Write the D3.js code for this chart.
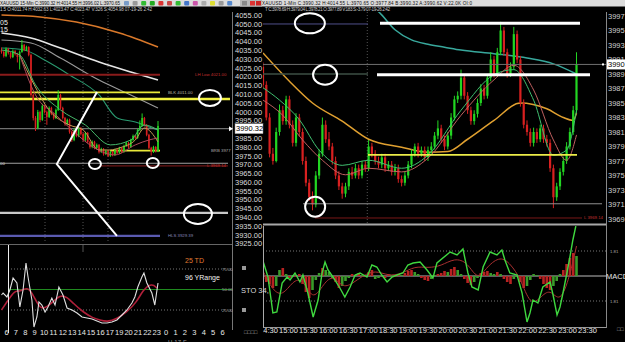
<!DOCTYPE html>
<html>
<head>
<meta charset="utf-8">
<script src="https://cdn.jsdelivr.net/npm/d3@7"></script>
<style>
  html, body { margin: 0; padding: 0; background: #000; overflow: hidden; }
  svg { display: block; font-family: "Liberation Sans", Arial, sans-serif; }
</style>
</head>
<body>
<div id="chart"></div>
<script>
const W = 625, H = 342;

// ---------- 15-min window (left) ----------
// [open, high, low, close]
const leftCandles = [
  [4035.1,4036.5,4033.0,4034.0],[4034.0,4034.8,4030.8,4031.7],[4031.7,4036.6,4031.0,4035.7],[4035.7,4036.3,4032.5,4033.4],
  [4033.4,4034.0,4030.2,4031.1],[4031.1,4035.4,4030.5,4034.5],[4034.5,4035.0,4032.0,4032.8],[4032.8,4033.5,4028.0,4031.1],
  [4031.1,4034.8,4024.0,4034.0],[4034.0,4040.8,4033.5,4037.9],[4037.9,4038.5,4034.4,4035.1],[4035.1,4037.5,4034.5,4036.8],
  [4036.8,4037.2,4031.5,4032.3],[4032.3,4033.0,4008.5,4009.5],[4009.5,4010.2,3995.0,3996.4],[3996.4,3997.5,3989.0,3990.7],
  [3990.7,4001.0,3990.0,3999.8],[3999.8,4000.5,3994.0,3995.3],[3995.3,4004.5,3994.8,4003.2],[4003.2,4004.0,3999.0,3999.8],
  [3999.8,4000.6,3992.5,3997.0],[3997.0,4003.0,3996.4,4002.1],[4002.1,4002.8,3998.0,3998.7],[3998.7,3999.5,3995.5,3996.4],
  [3996.4,4001.8,3995.8,4001.0],[4001.0,4012.3,4000.4,4009.5],[4009.5,4010.2,4001.4,4002.1],[4002.1,4002.8,3995.6,3996.4],
  [3996.4,3997.0,3992.0,3993.0],[3993.0,3996.0,3992.4,3995.3],[3995.3,3996.0,3987.5,3988.5],[3988.5,3989.2,3982.8,3983.9],
  [3983.9,3990.5,3983.2,3989.6],[3989.6,3990.2,3985.4,3986.2],[3986.2,3991.5,3985.5,3990.7],[3990.7,3991.3,3986.5,3987.3],
  [3987.3,3988.0,3983.0,3983.9],[3983.9,3988.6,3983.2,3987.9],[3987.9,3988.4,3982.0,3982.8],[3982.8,3983.4,3979.0,3979.9],
  [3979.9,3983.6,3979.2,3982.8],[3982.8,3983.4,3978.6,3979.4],[3979.4,3981.9,3978.8,3981.1],[3981.1,3981.6,3976.2,3977.1],
  [3977.1,3979.5,3976.5,3978.8],[3978.8,3979.3,3975.0,3975.9],[3975.9,3978.4,3975.3,3977.6],[3977.6,3978.2,3974.2,3974.8],
  [3974.8,3977.8,3974.3,3977.1],[3977.1,3977.6,3974.6,3975.4],[3975.4,3979.0,3974.8,3978.2],[3978.2,3978.8,3975.8,3976.5],
  [3976.5,3980.0,3976.0,3979.4],[3979.4,3979.9,3976.4,3977.1],[3977.1,3981.2,3976.6,3980.5],[3980.5,3983.0,3980.0,3982.2],
  [3982.2,3982.8,3979.2,3979.9],[3979.9,3984.6,3979.4,3983.9],[3983.9,3987.0,3983.4,3986.2],[3986.2,3986.8,3984.3,3985.0],
  [3985.0,3990.4,3984.5,3989.6],[3989.6,3995.0,3989.0,3991.9],[3991.9,3999.0,3991.4,3996.4],[3996.4,3997.0,3991.6,3992.4],
  [3992.4,3993.0,3986.0,3986.8],[3986.8,3987.4,3978.6,3979.4],[3979.4,3980.0,3975.0,3977.1],[3977.1,3980.6,3976.5,3979.9],
  [3979.9,3980.4,3976.8,3977.6],[3977.6,3994.7,3977.0,3991.9]
];
// moving averages as [candle index, price]
const leftMaOrange = [[0,4055.0],[17,4053.9],[33,4051.0],[52,4044.8],[69,4036.8]];
const leftMaWhite  = [[0,4044.8],[13,4041.9],[26,4036.2],[43,4028.3],[57,4022.6],[69,4018.0]];
const leftMaGray   = [[0,4040.8],[13,4039.1],[26,4030.5],[43,4018.0],[57,4009.5],[69,4002.1]];
const leftMaTeal   = [[0,4036.2],[10,4035.1],[19,4029.4],[30,4020.9],[43,4009.5],[51,3996.4],[59,3994.1],[65,3991.3],[69,3989.6]];
const leftMaTan    = [[8,4032.3],[14,4016.3],[21,4000.9],[30,3992.4],[36,3989.6],[43,3978.2],[48,3978.2],[52,3979.4],[59,3983.9],[63,3990.7],[69,3982.8]];
const leftMaPink   = [[8,4032.3],[15,4009.5],[24,3998.1],[32,3988.5],[41,3979.4],[50,3975.4],[59,3981.1],[65,3983.9],[69,3985.0]];
const leftMaGreen  = [[0,4035.1],[8,4032.3],[15,4015.2],[26,4001.0],[37,3992.4],[48,3981.1],[57,3983.9],[63,3992.4],[69,3989.6]];

const leftLevels = [4021.0, 4011.0, 4007.2, 3990.32, 3977.84, 3970.65, 3969.14, 3942.4, 3929.39];
const leftLevelLabels = ["LH Low 4021.00", "BLK 4011.00", "", "", "BRB 3977", "00", "L  3969.14", "", "HLS 3929.39"];
const leftPriceTicks = [4055,4050,4045,4040,4035,4030,4025,4020,4015,4010,4005,4000,3995,3990,3985,3980,3975,3970,3965,3960,3955,3950,3945,3940,3935,3930,3925];
const leftLast = 3990.32;

// oscillator (25 TD / 96 YRange) as [candle index, value]
const leftOscWhite = [[0,43.3],[0.7,45.7],[2.4,40.9],[3.7,49.4],[5.1,64.0],[6.8,57.9],[8.1,28.7],[9.5,49.4],[10.8,82.3],[11.7,65.2],
  [13.4,37.2],[14.3,4.3],[15.6,16.5],[16.5,34.8],[17.8,31.1],[19.2,22.6],[20.5,28.7],[22.2,39.6],[23.6,31.1],[25.3,53.0],
  [27.1,43.3],[28.9,27.4],[31.1,25.0],[33.3,21.3],[35.5,16.5],[37.7,15.2],[39.9,14.0],[42.1,11.6],[44.3,9.1],[46.5,9.1],
  [48.7,10.4],[50.9,12.8],[53.1,18.9],[55.3,25.0],[57.5,33.5],[58.8,40.9],[60.1,53.0],[61.9,65.2],[62.8,70.1],[64.1,57.9],
  [66.3,45.7],[67.6,31.1],[69,57.9]];
const leftOscRed = [[0,25.0],[2.4,34.8],[5.9,49.4],[8.1,47.0],[11.2,53.0],[13.4,47.0],[17,25.0],[20,28.7],[22.7,34.8],[25.8,43.3],
  [28.9,40.9],[31.5,33.5],[35.9,22.6],[40.3,15.2],[43.4,12.8],[46.5,10.4],[50.9,14.0],[55.3,22.6],[59.7,34.8],[62.3,49.4],
  [66.3,57.9],[68.5,51.8]];
const leftOscLevels = [75, 50, 25];
const hourLabels = ["6","7","8","9","10","11","12","13","14","15","16","17","19","20","21","22","23","0","1","2","3","4","5","6"];

// ---------- 1-min window (right) ----------
const midCandles = [
  [3990.0,3990.6,3987.0,3987.5],[3987.5,3988.0,3982.6,3983.0],[3983.0,3983.6,3977.5,3978.0],[3978.0,3978.8,3976.5,3977.0],
  [3977.0,3981.6,3976.8,3981.0],[3981.0,3984.8,3980.5,3984.0],[3984.0,3984.6,3982.0,3982.5],[3982.5,3986.0,3982.0,3985.5],
  [3985.5,3986.0,3981.5,3982.0],[3982.0,3982.6,3979.0,3979.5],[3979.5,3983.6,3979.0,3983.0],[3983.0,3983.5,3980.4,3981.0],
  [3981.0,3981.5,3976.5,3977.0],[3977.0,3977.6,3973.5,3974.0],[3974.0,3974.5,3971.5,3972.0],[3972.0,3972.8,3970.2,3971.0],
  [3971.0,3975.6,3970.6,3975.0],[3975.0,3978.6,3974.5,3978.0],[3978.0,3983.0,3977.6,3982.0],[3982.0,3982.6,3979.5,3980.0],
  [3980.0,3981.0,3978.5,3979.0],[3979.0,3979.5,3976.5,3977.0],[3977.0,3977.6,3974.5,3975.0],[3975.0,3975.6,3973.0,3973.5],
  [3973.5,3974.0,3971.8,3972.5],[3972.5,3974.0,3972.0,3973.5],[3973.5,3976.0,3973.0,3975.5],[3975.5,3976.2,3974.5,3975.0],
  [3975.0,3976.6,3974.6,3976.0],[3976.0,3976.5,3974.5,3975.0],[3975.0,3977.0,3974.6,3976.5],[3976.5,3977.0,3975.5,3976.0],
  [3976.0,3979.9,3975.6,3979.0],[3979.0,3979.5,3977.5,3978.0],[3978.0,3978.5,3976.5,3977.0],[3977.0,3977.6,3976.0,3976.5],
  [3976.5,3978.0,3976.0,3977.5],[3977.5,3978.0,3975.5,3976.0],[3976.0,3977.0,3975.6,3976.5],[3976.5,3977.0,3975.0,3975.5],
  [3975.5,3976.6,3975.0,3976.0],[3976.0,3976.5,3974.0,3974.5],[3974.5,3975.0,3973.5,3974.0],[3974.0,3975.6,3973.6,3975.0],
  [3975.0,3977.0,3974.6,3976.5],[3976.5,3978.6,3976.0,3978.0],[3978.0,3979.4,3977.6,3979.0],[3979.0,3979.5,3977.5,3978.0],
  [3978.0,3979.0,3977.6,3978.5],[3978.5,3979.0,3977.0,3977.5],[3977.5,3979.0,3977.0,3978.5],[3978.5,3979.6,3978.0,3979.0],
  [3979.0,3981.0,3978.6,3980.5],[3980.5,3982.6,3980.0,3981.5],[3981.5,3982.0,3979.5,3980.0],[3980.0,3980.5,3978.5,3979.0],
  [3979.0,3981.0,3978.6,3980.5],[3980.5,3983.6,3980.0,3983.0],[3983.0,3986.0,3982.6,3985.5],[3985.5,3986.6,3985.0,3986.0],
  [3986.0,3989.6,3985.5,3988.5],[3988.5,3989.0,3985.5,3986.0],[3986.0,3986.5,3983.5,3984.0],[3984.0,3984.5,3982.0,3982.5],
  [3982.5,3984.0,3982.0,3983.5],[3983.5,3985.6,3983.0,3985.0],[3985.0,3987.6,3984.6,3987.0],[3987.0,3987.5,3985.5,3986.0],
  [3986.0,3989.0,3985.6,3988.5],[3988.5,3992.0,3988.0,3991.0],[3991.0,3991.5,3988.5,3989.0],[3989.0,3992.6,3988.6,3992.0],
  [3992.0,3996.2,3991.6,3995.0],[3995.0,3995.5,3991.5,3992.0],[3992.0,3992.5,3988.5,3989.0],[3989.0,3990.6,3988.6,3990.0],
  [3990.0,3995.5,3989.6,3994.5],[3994.5,3995.0,3990.5,3991.0],[3991.0,3991.5,3984.5,3985.0],[3985.0,3985.5,3981.5,3982.0],
  [3982.0,3982.6,3980.5,3981.0],[3981.0,3981.5,3979.0,3979.5],[3979.5,3981.6,3979.0,3981.0],[3981.0,3981.5,3979.5,3980.0],
  [3980.0,3982.0,3979.6,3981.5],[3981.5,3982.0,3979.5,3980.0],[3980.0,3980.6,3979.0,3979.5],[3979.5,3980.0,3975.5,3976.0],
  [3976.0,3976.5,3970.5,3972.0],[3972.0,3974.0,3971.5,3973.5],[3973.5,3976.0,3973.0,3975.5],[3975.5,3977.6,3975.0,3977.0],
  [3977.0,3979.6,3976.6,3979.0],[3979.0,3981.6,3978.6,3981.0],[3981.0,3984.6,3980.6,3984.0],[3984.0,3992.0,3983.6,3990.3]
];
const midMaTeal   = [[30,3999.0],[35,3997.6],[40,3995.1],[45,3993.7],[50,3993.1],[55,3992.7],[60,3992.3],[70,3991.8],[80,3991.2],[88,3990.4],[95,3989.0]];
const midMaOrange = [[0,3991.9],[8,3988.0],[15,3985.0],[24,3982.5],[32,3980.0],[42,3978.9],[50,3978.2],[56,3978.3],[62,3980.0],[70,3982.6],[78,3985.0],[86,3984.2],[91,3983.0],[94,3982.6],[95,3983.6]];
const midMaGreen  = [[0,3987.1],[5,3985.4],[11,3982.7],[17,3978.5],[24,3976.4],[32,3977.1],[42,3976.0],[50,3977.8],[60,3984.0],[70,3988.9],[76,3989.6],[82,3985.4],[88,3977.8],[92,3978.5],[95,3984.0]];
const midMaPink   = [[0,3985.4],[6,3983.3],[12,3979.9],[18,3977.1],[25,3975.1],[32,3976.0],[42,3975.5],[50,3977.4],[60,3983.3],[70,3988.2],[76,3990.2],[82,3986.8],[88,3979.9],[92,3977.1],[95,3980.6]];
const midLevels = [3995.9, 3996.0, 3990.32, 3989.0, 3988.9, 3977.84, 3971.1, 3969.14];
const midPriceTicks = [3997,3995,3993,3991,3989,3987,3985,3983,3981,3979,3977,3975,3973,3971,3969];
const midLast = 3990.32;

// STO 34 (green), signal (red), histogram as [candle index, value]
const midSto = [[0,15],[1.5,-1],[3,-37],[4.2,-36],[5.8,-7],[7.3,-1],[8.2,-4],[9.7,3],[11.2,-6],[12.1,1],[13.6,-17],[15.2,-41],
  [16.7,-24],[17.9,3],[18.8,14],[19.7,6],[21.2,-1],[23.3,-12],[24.8,-21],[26.4,-11],[27.9,1],[29.4,3],[31.5,-1],[33,11],
  [34.5,9],[36,1],[37.6,-6],[39.1,-1],[40.6,1],[42.4,3],[43.9,11],[45.5,13],[47.6,14],[49.7,6],[51.5,-2],[52.7,13],
  [56.7,24],[58.8,21],[60.6,27],[62.1,3],[63.3,-11],[65.2,-14],[66.7,9],[68.8,24],[70.9,21],[72.4,26],[73.3,16],[74.8,3],
  [77,1],[78.5,-17],[80,-46],[80.9,-37],[81.8,-24],[83.3,-27],[84.8,-11],[87,-6],[87.9,-19],[89.1,-39],[90,-31],[90.9,-17],
  [92.1,3],[93,19],[93.9,36],[94.8,50]];
const midSignal = [[0,5],[3,-15],[6,-20],[9,-5],[12,-2],[15,-25],[18,-10],[21,2],[24,-12],[27,-8],[30,0],[34,6],[38,0],[42,2],
  [46,10],[50,8],[54,10],[58,18],[62,14],[65,-5],[68,10],[72,20],[75,12],[78,-2],[81,-30],[84,-22],[87,-12],[90,-28],[93,0],[95,30]];
const midHist = [-3,-6,-8,-12,-10,6,8,2,-2,1,-1,2,-8,-16,-22,-14,-4,3,8,6,4,-2,-6,-12,-10,-5,-2,2,1,3,1,-1,
  4,6,-3,-2,1,-2,2,1,-1,2,1,3,5,6,4,2,-2,-4,-5,-3,1,2,3,5,4,7,9,6,2,-3,-7,-9,-6,-2,
  3,4,5,3,2,4,2,-3,-6,-8,-3,-1,-6,-12,-10,-4,2,1,-3,-8,-12,-14,-10,-5,2,6,12,18,23,20];
const midOscLevels = [25, 0, -25];
const timeLabels = ["14:30","15:00","15:30","16:00","16:30","17:00","18:30","19:00","19:30","20:00","20:30","21:00","21:30","22:00","22:30","23:00","23:30"];

const leftTitle1 = "XAUUSD 15-Min  C:3990.32  H:4014.55  H:3996.02  L:3970.65";
const leftTitle2 = "1.5  O:4011.74  H:4032.63  L:4023.47  C:4023.47  V:326  S:4054.98  07-19-26  2:42";
const midTitle1 = "XAUUSD 1-Min  C:3990.32  H:4014.55  L:3970.65  O:3977.84  B:3990.32  A:3990.62  V:22.0K  OI:0";
const midTitle2 = "T  C:3978.69  H:3979.04  L:3978.21  O:3977.89  V:183  S:-3.79  07-19-26  2:42";
const toolIcons = ["#7a9cc8","#999","#3b3","#2a2","#d33","#c44","#3b3","#47c","#c5a","#aaa","#dd3","#999","#58c"];

// ---------- scales ----------
const leftX = d3.scaleLinear().domain([0, 69]).range([1.5, 158]);
const leftY = d3.scaleLinear().domain([3925, 4055]).range([243.5, 15]);
const leftOscY = d3.scaleLinear().domain([0, 100]).range([330.5, 248.5]);
const hourX = d3.scaleLinear().domain([0, 23]).range([6, 222]);
const midX = d3.scaleLinear().domain([0, 95]).range([263, 576.5]);
const midY = d3.scaleLinear().domain([3969, 3997]).range([219, 16]);
const midOscY = d3.scaleLinear().domain([-50, 50]).range([326, 226]);
const timeX = d3.scalePoint().domain(timeLabels).range([268, 587]);

const UP = "#22d622", DOWN = "#d82020";

const svg = d3.select("#chart").append("svg").attr("width", W).attr("height", H);
svg.append("rect").attr("width", W).attr("height", H).attr("fill", "#000");

const defs = svg.append("defs");
function clip(id, x, y, w, h) {
  defs.append("clipPath").attr("id", id).append("rect").attr("x", x).attr("y", y).attr("width", w).attr("height", h);
  return `url(#${id})`;
}
const leftClip = clip("lc", 0, 12, 232, 231);
const midClip = clip("mc", 263, 12, 343, 211);
const midOscClip = clip("moc", 263, 226, 343, 101);
const timeClip = clip("tc", 263, 327, 362, 15);
const leftOscClip = clip("loc", 0, 245, 232, 85);

function drawCandles(g, data, x, y, bw) {
  const c = g.selectAll(null).data(data).join("g");
  c.append("line")
    .attr("x1", (d, i) => x(i)).attr("x2", (d, i) => x(i))
    .attr("y1", d => y(d[1])).attr("y2", d => y(d[2]))
    .attr("stroke", d => d[3] >= d[0] ? UP : DOWN).attr("stroke-width", 1);
  c.append("rect")
    .attr("x", (d, i) => x(i) - bw / 2).attr("width", bw)
    .attr("y", d => y(Math.max(d[0], d[3])))
    .attr("height", d => Math.max(1, Math.abs(y(d[0]) - y(d[3]))))
    .attr("fill", d => d[3] >= d[0] ? UP : DOWN);
}
function drawLine(g, data, x, y, color, w, curve) {
  g.append("path").datum(data)
    .attr("d", d3.line().x(d => x(d[0])).y(d => y(d[1])).curve(curve || d3.curveMonotoneX))
    .attr("fill", "none").attr("stroke", color).attr("stroke-width", w);
}
function hline(g, y, x0, x1, color, w, dash) {
  g.append("line").attr("x1", x0).attr("x2", x1).attr("y1", y).attr("y2", y)
    .attr("stroke", color).attr("stroke-width", w).attr("stroke-dasharray", dash || null);
}
function txt(g, x, y, s, size, color, anchor) {
  return g.append("text").attr("x", x).attr("y", y).text(s)
    .attr("font-size", size).attr("fill", color).attr("text-anchor", anchor || "start");
}

// ---------- left price pane ----------
const lp = svg.append("g").attr("clip-path", leftClip);
[45, 83, 108].forEach(x => {
  lp.append("line").attr("x1", x).attr("x2", x).attr("y1", 12).attr("y2", 244)
    .attr("stroke", "#555").attr("stroke-dasharray", "1,2");
});
drawLine(lp, leftMaOrange, leftX, leftY, "#d9782a", 1.6);
drawLine(lp, leftMaWhite, leftX, leftY, "#e6e6e6", 1.6);
drawLine(lp, leftMaGray, leftX, leftY, "#9a9a9a", 1.1);
drawLine(lp, leftMaTeal, leftX, leftY, "#2a9a70", 1.1);

const leftLevelStyle = [
  { x0: 0, x1: 160, c: "#8a1b1b", w: 2.2, lx: 195, lc: "#c43030" },
  { x0: 0, x1: 160, c: "#e8e83a", w: 1.6, lx: 168, lc: "#bbbbaa" },
  { x0: 0, x1: 230, c: "#f0f040", w: 2.6 },
  { x0: 0, x1: 232, c: "#8a8a8a", w: 1 },
  { x0: 110, x1: 160, c: "#e8e83a", w: 1.6, lx: 211, lc: "#aaaaaa" },
  { x0: 0, x1: 228, c: "#a0a0a0", w: 1, lx: 0, lc: "#dddddd" },
  { x0: 100, x1: 228, c: "#8a1b1b", w: 1, lx: 207, lc: "#c43030" },
  { x0: 0, x1: 228, c: "#c8c8c8", w: 2.2 },
  { x0: 0, x1: 160, c: "#5a5ab0", w: 2.2, lx: 168, lc: "#8888bb" }
];
leftLevels.forEach((v, i) => {
  const s = leftLevelStyle[i];
  hline(lp, leftY(v), s.x0, s.x1, s.c, s.w);
  if (leftLevelLabels[i]) txt(lp, s.lx, leftY(v) + 1.5, leftLevelLabels[i], 4.3, s.lc);
});
drawCandles(lp, leftCandles, leftX, leftY, 1.6);
drawLine(lp, leftMaTan, leftX, leftY, "#c89a55", 1);
drawLine(lp, leftMaPink, leftX, leftY, "#b04a5a", 1);
drawLine(lp, leftMaGreen, leftX, leftY, "#46b86a", 1);

// hand-drawn annotations
const leftRings = [[91.9, 4007.8, 11, 8], [41.2, 3970.2, 6, 5], [66.7, 3970.8, 6, 5], [86.6, 3941.8, 14, 10]];
leftRings.forEach(r => {
  svg.append("ellipse").attr("cx", leftX(r[0])).attr("cy", leftY(r[1])).attr("rx", r[2]).attr("ry", r[3])
    .attr("fill", "none").attr("stroke", "#fff").attr("stroke-width", 2);
});
const leftV = [[42.1, 4011.2], [24.4, 3970.2], [50.9, 3929.3]];
svg.append("path").datum(leftV)
  .attr("d", d3.line().x(d => leftX(d[0])).y(d => leftY(d[1])))
  .attr("fill", "none").attr("stroke", "#fff").attr("stroke-width", 2);

txt(svg, 0, 24.5, "05", 7, "#eee");
txt(svg, 0, 31.5, "15", 7, "#eee");

// frame of left window
svg.append("line").attr("x1", 232.5).attr("x2", 232.5).attr("y1", 12).attr("y2", 330).attr("stroke", "#777");
hline(svg, 244.5, 0, 232, "#666", 1);

// left oscillator
const lo = svg.append("g").attr("clip-path", leftOscClip);
leftOscLevels.forEach(v => {
  if (v === 50) hline(lo, leftOscY(v), 8, 232, "#1f8a1f", 1);
  else hline(lo, leftOscY(v), 8, 232, "#777", 1, "1,2");
});
lo.append("line").attr("x1", 83).attr("x2", 83).attr("y1", 245).attr("y2", 252).attr("stroke", "#555");
drawLine(lo, leftOscRed, leftX, leftOscY, "#b0203a", 1.6, d3.curveBasis);
drawLine(lo, leftOscWhite, leftX, leftOscY, "#e0e0e0", 1.1, d3.curveLinear);
svg.append("line").attr("x1", 8.5).attr("x2", 8.5).attr("y1", 245).attr("y2", 333).attr("stroke", "#eee");
txt(svg, 185, 263, "25 TD", 7, "#e07a30");
txt(svg, 185, 280, "96 YRange", 7, "#f0f0f0");
leftOscLevels.forEach(v => txt(svg, 222, leftOscY(v) + 1.5, v.toFixed(2), 4.3, "#aaa"));

// hour axis
const hourAxis = d3.axisBottom(hourX).tickValues(d3.range(hourLabels.length))
  .tickFormat(i => hourLabels[i]).tickSize(0).tickPadding(1);
const ha = svg.append("g").attr("transform", "translate(0,329)").call(hourAxis);
ha.select(".domain").remove();
ha.selectAll("text").attr("fill", "#e8e8e8").style("font-size", "7.5px").style("font-family", "Liberation Sans, Arial");
txt(svg, 168, 344, "H-17-F", 6, "#999");

// left price labels column
const la = svg.append("g").attr("transform", "translate(235,0)")
  .call(d3.axisRight(leftY).tickValues(leftPriceTicks).tickFormat(d3.format(".2f")).tickSize(0).tickPadding(0));
la.select(".domain").remove();
la.selectAll("text").attr("fill", "#dcdcdc").style("font-size", "7.5px").style("font-family", "Liberation Sans, Arial");
svg.append("rect").attr("x", 235).attr("y", leftY(leftLast) - 5).attr("width", 28).attr("height", 10)
  .attr("fill", "#fff").attr("stroke", "#888").attr("stroke-width", 0.5);
txt(svg, 236, leftY(leftLast) + 2.7, "3990.32", 7.5, "#000");
svg.append("path").attr("d", `M229,${leftY(leftLast) - 2.5}L233,${leftY(leftLast)}L229,${leftY(leftLast) + 2.5}Z`).attr("fill", "#fff");

// ---------- middle price pane ----------
const mp = svg.append("g").attr("clip-path", midClip);
mp.append("line").attr("x1", midX(31.6)).attr("x2", midX(31.6)).attr("y1", 12).attr("y2", 224)
  .attr("stroke", "#555").attr("stroke-dasharray", "1,2");
drawLine(mp, midMaTeal, midX, midY, "#38a89c", 1.5);
drawLine(mp, midMaOrange, midX, midY, "#e0a030", 1.5);

const midLevelStyle = [
  { x0: 263, x1: 368, c: "#50508a", w: 1 },
  { x0: 380, x1: 580, c: "#ffffff", w: 3 },
  { x0: 263, x1: 606, c: "#707070", w: 1 },
  { x0: 263, x1: 368, c: "#3c4f44", w: 1.5 },
  { x0: 377, x1: 590, c: "#ffffff", w: 3 },
  { x0: 368, x1: 577, c: "#ecec48", w: 1.6 },
  { x0: 303, x1: 602, c: "#909090", w: 1 },
  { x0: 315, x1: 582, c: "#7a1818", w: 1 }
];
drawCandles(mp, midCandles, midX, midY, 2.2);
drawLine(mp, midMaGreen, midX, midY, "#40c070", 1);
drawLine(mp, midMaPink, midX, midY, "#c06060", 1);
midLevels.forEach((v, i) => {
  const s = midLevelStyle[i];
  hline(mp, midY(v), s.x0, s.x1, s.c, s.w);
});
txt(svg, 584, midY(3969.14) + 1.5, "L  3969.14", 4.3, "#c43030");
const midRings = [[14.2, 3996.0, 15, 10], [18.8, 3988.9, 12, 10], [15.8, 3970.7, 10, 10]];
midRings.forEach(r => {
  svg.append("ellipse").attr("cx", midX(r[0])).attr("cy", midY(r[1])).attr("rx", r[2]).attr("ry", r[3])
    .attr("fill", "none").attr("stroke", "#fff").attr("stroke-width", 2);
});
hline(svg, 224.5, 263, 606, "#a8a8a8", 2.2);

// right price axis
svg.append("line").attr("x1", 606.5).attr("x2", 606.5).attr("y1", 12).attr("y2", 328).attr("stroke", "#888");
const ra = svg.append("g").attr("transform", "translate(608,0)")
  .call(d3.axisRight(midY).tickValues(midPriceTicks).tickFormat(d3.format(".2f")).tickSize(0).tickPadding(0));
ra.select(".domain").remove();
ra.selectAll("text").attr("fill", "#cfcfcf").style("font-size", "7.5px").style("font-family", "Liberation Sans, Arial");
svg.append("rect").attr("x", 607).attr("y", midY(midLast) - 5).attr("width", 20).attr("height", 10).attr("fill", "#fff");
txt(svg, 608, midY(midLast) + 2.7, "3990.32", 7.5, "#000");
svg.append("rect").attr("x", 602).attr("y", midY(midLast) - 1).attr("width", 2).attr("height", 2).attr("fill", "#fff");

// ---------- middle oscillator ----------
const mo = svg.append("g").attr("clip-path", midOscClip);
midOscLevels.forEach(v => {
  if (v === 0) hline(mo, midOscY(v), 263, 606, "#bdbdbd", 1);
  else hline(mo, midOscY(v), 263, 606, "#777", 1, "1,2");
});
mo.selectAll(null).data(midHist).join("rect")
  .attr("x", (d, i) => midX(i) - 1.3).attr("width", 2.6)
  .attr("y", d => midOscY(Math.max(0, d))).attr("height", d => Math.abs(midOscY(d) - midOscY(0)))
  .attr("fill", (d, i) => i > 0 && Math.abs(d) < Math.abs(midHist[i - 1]) ? "#3a9a2a" : "#b82222");
drawLine(mo, midSignal, midX, midOscY, "#a83030", 1, d3.curveBasis);
drawLine(mo, midSto, midX, midOscY, "#3fd83f", 1.4, d3.curveLinear);
svg.append("line").attr("x1", 263.5).attr("x2", 263.5).attr("y1", 226).attr("y2", 328).attr("stroke", "#aaa");
hline(svg, 327.5, 263, 606, "#999", 1);
txt(svg, 241, 293, "STO 34,", 7.5, "#dcdcdc");
svg.append("rect").attr("x", 242).attr("y", 266).attr("width", 4).attr("height", 4).attr("fill", "#999");
svg.append("rect").attr("x", 242).attr("y", 308).attr("width", 4).attr("height", 4).attr("fill", "#999");
txt(svg, 610, midOscY(25) + 1.5, "1.81", 4.3, "#aaa");
txt(svg, 606, midOscY(0) + 2.8, "MACD", 7.5, "#e6e6e6");
txt(svg, 610, midOscY(-25) + 1.5, "1.81", 4.3, "#aaa");

// time axis
const ta = svg.append("g").attr("clip-path", timeClip).append("g").attr("transform", "translate(0,327)")
  .call(d3.axisBottom(timeX).tickSize(0).tickPadding(1));
ta.select(".domain").remove();
ta.selectAll("text").attr("fill", "#e8e8e8").style("font-size", "7.5px").style("font-family", "Liberation Sans, Arial");
txt(svg, 244, 334, "□□□□", 5.5, "#aaa");
txt(svg, 617, 331, "□□", 5.5, "#aaa");

// ---------- title strips ----------
svg.append("rect").attr("x", 0).attr("y", 0).attr("width", W).attr("height", 6.5).attr("fill", "#dcdcdc");
txt(svg, 0, 5.2, leftTitle1, 4.6, "#111").attr("textLength", 120);
txt(svg, 0, 11, leftTitle2, 4.6, "#c8c8c8").attr("textLength", 152);
toolIcons.forEach((c, i) => {
  svg.append("rect").attr("x", 124 + i * 8.6).attr("y", 1).attr("width", 5).attr("height", 4.5)
    .attr("fill", c).attr("rx", 1);
});
svg.append("rect").attr("x", 240).attr("y", 0).attr("width", 22).attr("height", 6.5).attr("fill", "#b8b8b8");
svg.append("rect").attr("x", 242).attr("y", 1).attr("width", 5).attr("height", 4.5).attr("fill", "#888");
svg.append("rect").attr("x", 250).attr("y", 1).attr("width", 5).attr("height", 4.5).attr("fill", "#d33");
svg.append("rect").attr("x", 256).attr("y", 1).attr("width", 5).attr("height", 4.5).attr("fill", "#c22");
txt(svg, 262, 5.2, midTitle1, 4.6, "#111").attr("textLength", 210);
txt(svg, 265, 11, midTitle2, 4.6, "#c8c8c8").attr("textLength", 125);
</script>
</body>
</html>
